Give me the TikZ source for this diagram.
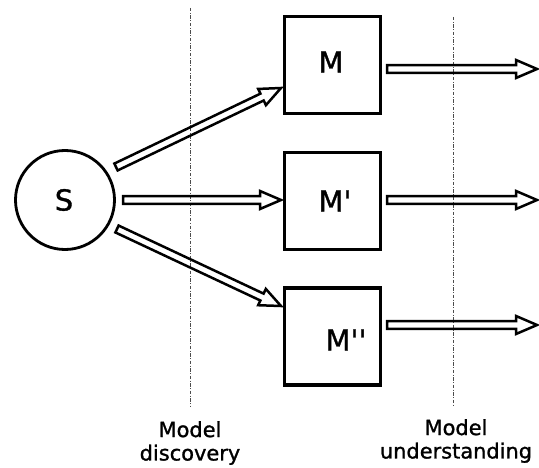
\documentclass[tikz,border=0pt]{standalone}
\usepackage{fontspec}
\setmainfont{DejaVu Sans}[Ligatures=TeXOff, FakeBold=1.2]
\usetikzlibrary{calc}
\tikzset{
  box/.style={draw, line width=3.2bp, minimum width=96bp, minimum height=97bp, inner sep=0pt},
  src/.style={draw, circle, line width=2.8bp, minimum size=99bp, inner sep=0pt},
  lbl/.style={font=\fontsize{29}{32}\selectfont, inner sep=0pt},
  caption/.style={font=\fontsize{21}{23.5}\selectfont, align=center, inner sep=0pt},
  divider/.style={line width=1bp, gray!60!black, dash pattern=on 3.5bp off 1.5bp on 1bp off 1.5bp},
  hollow/.style={draw, line width=2.5bp, line join=miter},
}
\newcommand\harrow[2]{%
  \coordinate (hb) at ($(#2)!21bp!(#1)$);
  \draw[hollow] ($(#1)!3.8bp!90:(#2)$) -- ($(hb)!3.8bp!90:(#2)$) -- ($(hb)!9bp!90:(#2)$)
    -- (#2) -- ($(hb)!9bp!-90:(#2)$) -- ($(hb)!3.8bp!-90:(#2)$) -- ($(#1)!3.8bp!-90:(#2)$) -- cycle;}
\begin{document}
\begin{tikzpicture}[x=1bp, y=-1bp]
  \useasboundingbox (0,0) rectangle (539,468);
  % dividers
  \coordinate (d1top) at (190,8);
  \coordinate (d1bot) at (190,407);
  \coordinate (d2top) at (453,17);
  \coordinate (d2bot) at (453,407);
  \draw[divider] (d1top) -- (d1bot);
  \draw[divider] (d2top) -- (d2bot);
  % nodes
  \node[src] (S) at (65,200) {};
  \node[lbl] (tS) at (64,200) {S};
  \node[box] (M)  at (332.5,65) {};
  \node[box] (M1) at (332.5,201) {};
  \node[box] (M2) at (332.5,336.5) {};
  \node[lbl] (tM)  at (331,62) {M};
  \node[lbl] (tM1) at (335,201) {M'};
  \node[lbl] (tM2) at (346,340) {M''};
  % arrow ends
  \coordinate (a1s) at (116,167);
  \coordinate (a1e) at (281,88);
  \coordinate (a2s) at (123,200);
  \coordinate (a2e) at (281,200);
  \coordinate (a3s) at (117,229);
  \coordinate (a3e) at (281,306);
  \coordinate (b1s) at (387,69);
  \coordinate (b1e) at (537,69);
  \coordinate (b2s) at (387,200);
  \coordinate (b2e) at (537,200);
  \coordinate (b3s) at (387,325);
  \coordinate (b3e) at (537,325);
  \harrow{a1s}{a1e}
  \harrow{a2s}{a2e}
  \harrow{a3s}{a3e}
  \harrow{b1s}{b1e}
  \harrow{b2s}{b2e}
  \harrow{b3s}{b3e}
  % captions
  \node[caption] (c1) at (190,443) {Model\\discovery};
  \node[caption] (c2) at (456,441) {Model\\understanding};
\end{tikzpicture}
\end{document}
